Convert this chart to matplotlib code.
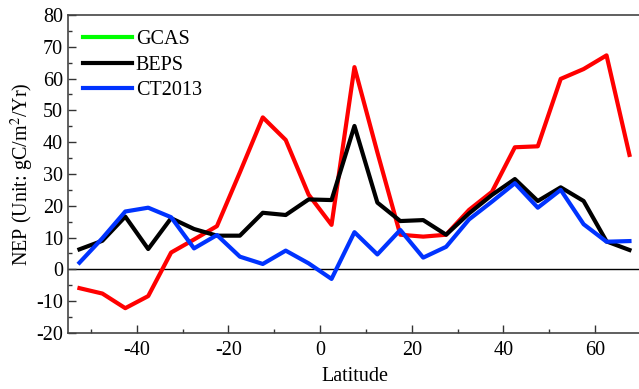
import numpy as np
import matplotlib
matplotlib.use('Agg')
import matplotlib.pyplot as plt
from matplotlib.lines import Line2D
from matplotlib.ticker import MultipleLocator

# zonal mean NEP, 5 degree latitude bands
lat = [-52.5, -47.5, -42.5, -37.5, -32.5, -27.5, -22.5, -17.5, -12.5, -7.5,
       -2.5, 2.5, 7.5, 12.5, 17.5, 22.5, 27.5, 32.5, 37.5, 42.5,
       47.5, 52.5, 57.5, 62.5, 67.5]
gcas = [-5.9, -7.6, -12.2, -8.4, 5.3, 9.4, 13.6, 30.5, 47.8, 40.7,
        23.5, 14.0, 63.6, 36.8, 10.9, 10.3, 10.9, 18.7, 24.4, 38.4,
        38.7, 59.9, 63.0, 67.3, 36.0]
beps = [6.3, 9.0, 16.6, 6.4, 16.1, 12.7, 10.6, 10.6, 17.8, 17.1,
        22.0, 21.8, 45.1, 21.0, 15.2, 15.5, 10.9, 17.6, 23.4, 28.4,
        21.5, 25.8, 21.5, 8.8, 6.1]
ct2013 = [2.1, 9.8, 18.2, 19.4, 16.4, 6.6, 10.8, 4.0, 1.7, 5.9,
          1.9, -3.0, 11.7, 4.7, 12.4, 3.7, 7.1, 15.7, 21.3, 27.1,
          19.4, 25.0, 14.2, 8.7, 8.9]

plt.rcParams['font.family'] = ['Liberation Serif', 'DejaVu Serif']
plt.rcParams['mathtext.fontset'] = 'stix'
plt.rcParams['axes.unicode_minus'] = False

fs = 14.5
fig = plt.figure(figsize=(6.39, 3.89), dpi=100)
ax = fig.add_axes([0.1064, 0.144, 0.8966, 0.8175])

ax.axhline(0, color='black', lw=1.0, zorder=1)
ax.plot(lat, gcas, color='#ff0000', lw=3, zorder=2)
ax.plot(lat, beps, color='black', lw=3, zorder=3)
ax.plot(lat, ct2013, color='#0033ff', lw=3, zorder=4)

ax.set_xlim(-55, 70)
ax.set_ylim(-20, 80)
ax.xaxis.set_major_locator(MultipleLocator(20))
ax.xaxis.set_minor_locator(MultipleLocator(10))
ax.yaxis.set_major_locator(MultipleLocator(10))
ax.yaxis.set_minor_locator(MultipleLocator(5))
ax.tick_params(which='both', direction='in', top=False, right=False,
               labelsize=fs, color='#333333')
ax.tick_params(which='major', length=6, width=1)
ax.tick_params(which='minor', length=3, width=1)
ax.tick_params(axis='x', pad=6)
for s in ax.spines.values():
    s.set_color('#444444')
    s.set_linewidth(1.2)

ax.set_xlabel('Latitude', fontsize=fs, labelpad=5)
ax.set_ylabel('NEP (Unit: gC/m$^2$/Yr)', fontsize=fs, labelpad=0)

# legend handles: GCAS shown in green
handles = [Line2D([], [], color='#00ff00', lw=3),
           Line2D([], [], color='black', lw=3),
           Line2D([], [], color='#0033ff', lw=3)]
ax.legend(handles, ['GCAS', 'BEPS', 'CT2013'], loc='upper left',
          frameon=False, fontsize=fs, handlelength=2.4, handletextpad=0.2,
          labelspacing=0.3, borderaxespad=0.0, bbox_to_anchor=(0.013, 0.977))

fig.savefig('out.png', dpi=100)
